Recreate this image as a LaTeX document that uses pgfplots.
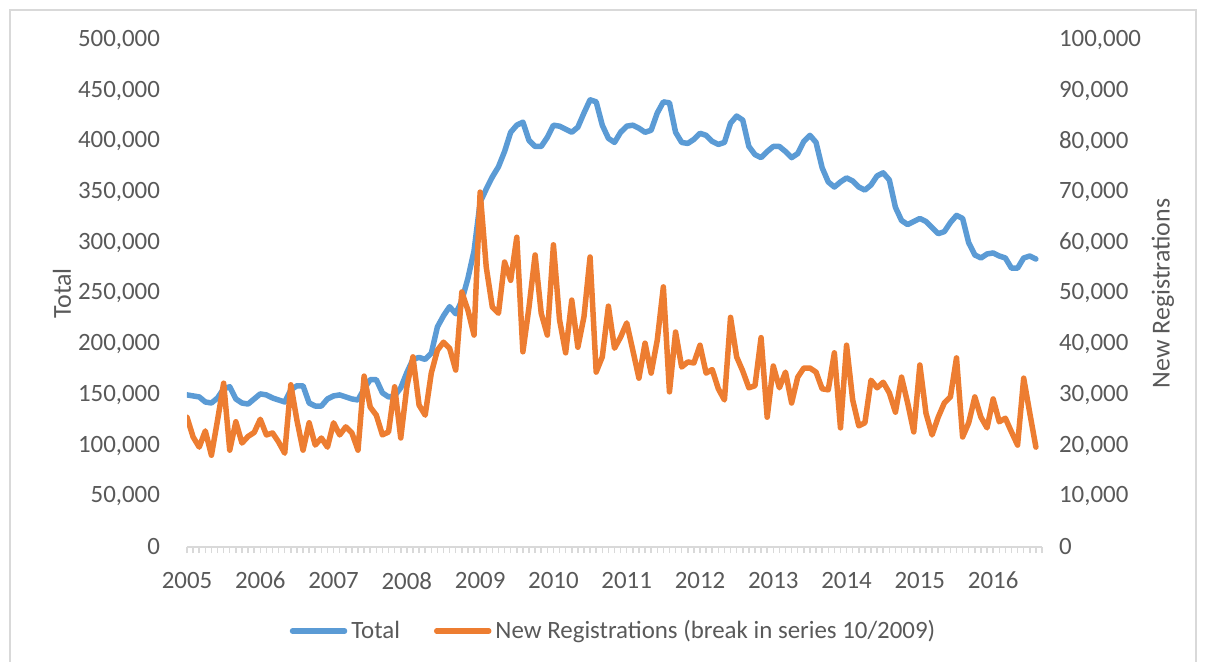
\documentclass[border=0pt]{standalone}
\usepackage{pgfplots}
\pgfplotsset{compat=1.18}
\usepackage{pgfplotstable}
\usepackage{fontspec}
\setmainfont{Carlito}
\definecolor{tblue}{HTML}{5B9BD5}
\definecolor{torange}{HTML}{ED7D31}
\definecolor{txt}{HTML}{595959}
\definecolor{axl}{HTML}{D9D9D9}

\pgfplotstableread{
i total newreg
0 150000 25600
1 149000 21700
2 148000 19700
3 143000 22900
4 142000 18100
5 147000 25000
6 156000 32300
7 158000 19100
8 146000 24700
9 142000 20500
10 141000 21800
11 146000 22600
12 151000 25200
13 150000 22100
14 147000 22500
15 145000 20700
16 143000 18500
17 155000 32000
18 159000 25000
19 159000 19100
20 142000 24500
21 139000 20100
22 139000 21500
23 146000 19700
24 149000 24500
25 150000 22100
26 148000 23700
27 146000 22500
28 145000 19100
29 156000 33700
30 165000 27600
31 165000 26000
32 152000 22100
33 148000 22700
34 149000 31600
35 157000 21500
36 172000 31600
37 185000 37500
38 187000 28000
39 185000 26000
40 191000 34300
41 217000 38800
42 228000 40400
43 237000 39200
44 230000 34900
45 243000 50300
46 265000 46700
47 292000 41800
48 340000 70000
49 353000 55200
50 365000 47300
51 375000 46100
52 390000 56200
53 409000 52600
54 416000 61100
55 419000 38500
56 401000 47300
57 395000 57600
58 395000 46100
59 404000 41800
60 416000 59600
61 415000 44800
62 412000 38300
63 409000 48700
64 414000 39400
65 428000 45400
66 441000 57200
67 439000 34500
68 416000 37500
69 403000 47500
70 399000 39200
71 409000 41400
72 415000 44200
73 416000 38800
74 413000 33300
75 409000 40200
76 411000 34300
77 428000 40800
78 439000 51300
79 438000 30600
80 409000 42400
81 399000 35500
82 398000 36500
83 402000 36300
84 408000 39800
85 406000 34300
86 400000 35000
87 397000 31200
88 399000 29000
89 418000 45300
90 425000 37500
91 421000 34700
92 395000 31400
93 387000 31800
94 384000 41300
95 390000 25600
96 395000 35700
97 395000 31400
98 390000 34500
99 384000 28400
100 388000 33500
101 400000 35300
102 406000 35300
103 399000 34500
104 374000 31200
105 360000 31000
106 355000 38300
107 360000 23500
108 364000 39800
109 361000 29000
110 355000 23900
111 352000 24500
112 357000 32900
113 366000 31400
114 369000 32500
115 362000 30400
116 335000 26600
117 322000 33500
118 318000 28400
119 321000 22700
120 324000 35900
121 321000 26400
122 315000 22100
123 309000 25600
124 311000 28400
125 320000 29600
126 327000 37300
127 324000 21700
128 300000 24500
129 288000 29600
130 285000 25600
131 289000 23500
132 290000 29200
133 287000 24700
134 285000 25400
135 275000 22700
136 275000 20100
137 285000 33300
138 287000 26400
139 284000 19700
}\datatable

\pgfplotsset{
  common/.style={
    scale only axis, width=427.5bp, height=253.5bp,
    xmin=0, xmax=140,
    scaled y ticks=false,
    /pgf/number format/fixed,
    /pgf/number format/1000 sep={,},
    /pgf/number format/assume math mode=true,
    tick label style={font=\fontsize{12.5}{15}\selectfont, text=txt},
    y axis line style={draw=none},
    ytick style={draw=none},
  }
}

\begin{document}
\begin{tikzpicture}
\draw[axl, line width=0.75bp] (-88.5bp,-70bp) rectangle (504.5bp,268.5bp);
\begin{axis}[common,
  ymin=0, ymax=500000, ytick={0,50000,...,500000},
  axis x line*=bottom, axis y line*=left,
  x axis line style={draw=axl, line width=1bp, -},
  xtick={0,12,...,132},
  xticklabels={2005,2006,2007,2008,2009,2010,2011,2012,2013,2014,2015,2016},
  minor xtick={0,1,...,140},
  xtick style={draw=axl, line width=0.75bp},
  minor tick style={draw=axl, line width=0.75bp},
  tick align=outside, major tick length=3bp, minor tick length=3bp,
  xticklabel style={yshift=-6bp},
  yticklabel style={xshift=-7bp},
  ylabel={Total},
  every axis y label/.style={at={(axis description cs:-0.1462,0.5)}, rotate=90, anchor=center,
    font=\fontsize{13}{15}\selectfont, text=txt},
]
\addplot[tblue, line width=2.75bp, line join=round, line cap=round] table[x=i, y=total]{\datatable};
\end{axis}
\begin{axis}[common,
  ymin=0, ymax=100000, ytick={0,10000,...,100000},
  axis y line*=right, axis x line=none, xtick=\empty,
  yticklabel style={xshift=5bp},
  ylabel={New Registrations},
  every axis y label/.style={at={(axis description cs:1.1415,0.5)}, rotate=90, anchor=center,
    font=\fontsize{13}{15}\selectfont, text=txt},
  legend columns=2,
  legend style={draw=none, fill=none, at={(axis description cs:0.5,-0.1657)}, anchor=center,
    font=\fontsize{12.5}{15}\selectfont, text=txt,
    /tikz/every even column/.append style={column sep=15bp}},
  legend image code/.code={\draw[#1, line width=2.75bp, line cap=round] (0bp,0bp) -- (26bp,0bp);},
]
\addlegendimage{tblue}
\addlegendentry{Total}
\addplot[torange, line width=2.75bp, line join=round, line cap=round] table[x=i, y=newreg]{\datatable};
\addlegendentry{New Registrations (break in series 10/2009)}
\end{axis}
\pgfresetboundingbox
\path[use as bounding box] (-93.5bp,-57.5bp) rectangle (509.5bp,273.5bp);
\end{tikzpicture}
\end{document}
